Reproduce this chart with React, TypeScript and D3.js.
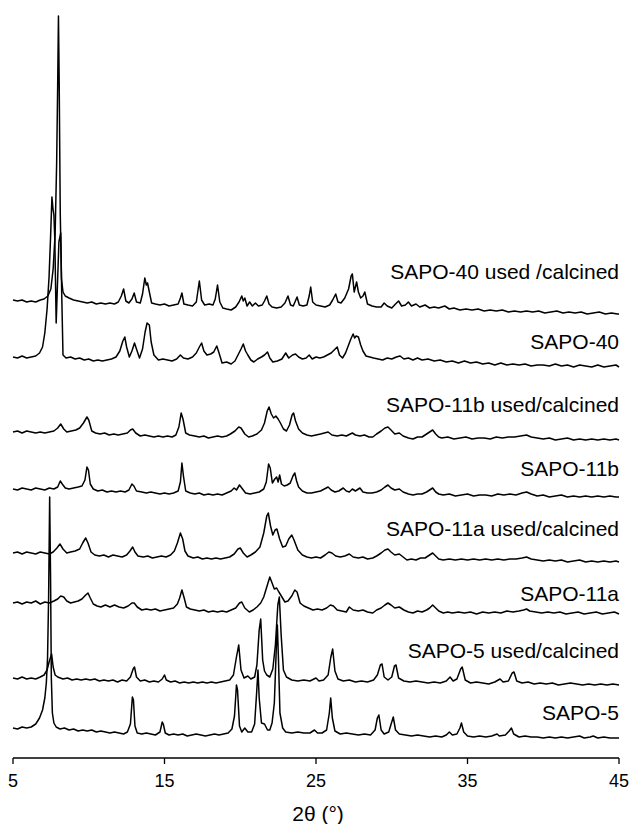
import React from "react";
import * as d3 from "d3";

type Pt = [number, number];

// 2θ axis ticks
const THETA_TICKS = [5, 15, 25, 35, 45];

// Series names (top to bottom) and vertical offsets (a.u.)
const NAMES = [
  "SAPO-40 used /calcined",
  "SAPO-40",
  "SAPO-11b used/calcined",
  "SAPO-11b",
  "SAPO-11a used/calcined",
  "SAPO-11a",
  "SAPO-5 used/calcined",
  "SAPO-5",
];
const OFFSETS = [444, 391, 319, 262, 197, 145, 73, 20];

const SAPO40_USED: Pt[] = [[5.0,14],[5.3,13],[5.6,14],[5.9,12],[6.2,13],[6.5,12],[6.8,14],[7.05,15],[7.3,18],[7.5,25],[7.65,45],[7.78,80],[7.88,150],[7.95,230],[8.0,298],[8.05,230],[8.12,100],[8.2,35],[8.3,22],[8.45,18],[8.7,16],[9.0,14],[9.3,13],[9.6,12],[9.9,11],[10.2,12],[10.5,10],[10.8,11],[11.1,10],[11.4,11],[11.7,10],[11.95,12],[12.15,18],[12.3,25],[12.45,13],[12.65,11],[12.85,15],[13.0,21],[13.15,12],[13.4,11],[13.55,20],[13.7,36],[13.8,29],[13.88,31],[14.0,22],[14.15,11],[14.4,10],[14.7,9],[15.0,10],[15.3,8],[15.6,9],[15.9,10],[16.05,16],[16.15,21],[16.28,10],[16.55,9],[16.85,8],[17.1,12],[17.3,33],[17.45,14],[17.65,9],[17.95,10],[18.2,9],[18.35,15],[18.5,29],[18.65,12],[18.85,6],[19.1,5],[19.4,4],[19.7,7],[19.92,12],[20.1,18],[20.2,13],[20.3,16],[20.45,8],[20.62,12],[20.8,8],[21.0,11],[21.2,8],[21.45,9],[21.6,13],[21.75,18],[21.9,10],[22.1,7],[22.4,6],[22.7,7],[22.95,11],[23.15,18],[23.32,9],[23.5,8],[23.75,17],[23.9,9],[24.15,8],[24.4,9],[24.55,18],[24.65,27],[24.78,12],[25.0,9],[25.3,8],[25.6,7],[25.9,9],[26.1,14],[26.3,20],[26.45,12],[26.65,11],[26.9,16],[27.15,25],[27.32,38],[27.4,40],[27.52,22],[27.68,32],[27.8,22],[27.95,16],[28.1,18],[28.22,22],[28.4,10],[28.7,8],[29.0,7],[29.3,7],[29.5,11],[29.7,8],[30.0,6],[30.25,10],[30.45,13],[30.65,8],[30.9,9],[31.1,12],[31.3,8],[31.6,10],[31.85,7],[32.2,9],[32.5,6],[32.8,7],[33.1,6],[33.5,8],[33.8,5],[34.1,6],[34.5,4],[34.9,5],[35.3,4],[35.7,5],[36.1,3],[36.5,4],[36.9,3],[37.3,4],[37.7,2],[38.1,3],[38.5,2],[38.9,3],[39.3,2],[39.7,3],[40.1,1],[40.5,2],[40.9,3],[41.3,1],[41.7,2],[42.1,1],[42.5,2],[42.9,0],[43.3,1],[43.7,2],[44.1,0],[44.5,1],[44.9,0],[45.0,0]];

const SAPO40: Pt[] = [[5.0,10],[5.3,9],[5.6,11],[5.9,9],[6.2,10],[6.5,11],[6.75,14],[6.95,20],[7.1,34],[7.25,58],[7.38,90],[7.48,130],[7.57,170],[7.64,158],[7.7,152],[7.76,128],[7.85,44],[7.93,80],[8.03,125],[8.15,134],[8.22,70],[8.3,12],[8.5,9],[8.8,10],[9.1,8],[9.4,9],[9.7,7],[10.0,8],[10.3,6],[10.6,7],[10.9,6],[11.2,7],[11.5,8],[11.8,10],[12.05,16],[12.25,26],[12.38,30],[12.5,20],[12.68,10],[12.85,16],[13.02,24],[13.15,18],[13.35,9],[13.55,18],[13.72,35],[13.85,44],[14.0,42],[14.12,25],[14.3,12],[14.6,7],[14.9,8],[15.2,7],[15.5,6],[15.8,8],[16.05,12],[16.25,9],[16.55,8],[16.85,10],[17.1,14],[17.3,20],[17.45,24],[17.6,16],[17.8,12],[18.05,13],[18.25,15],[18.45,21],[18.6,14],[18.8,4],[19.1,5],[19.4,3],[19.65,6],[19.85,12],[20.05,18],[20.2,23],[20.35,16],[20.5,12],[20.7,7],[20.9,5],[21.15,8],[21.4,10],[21.6,12],[21.8,15],[21.95,9],[22.15,5],[22.45,6],[22.75,8],[23.0,14],[23.2,9],[23.45,12],[23.65,13],[23.85,10],[24.1,8],[24.35,9],[24.55,12],[24.75,8],[25.0,10],[25.25,9],[25.5,10],[25.75,12],[26.0,14],[26.2,17],[26.4,20],[26.55,12],[26.75,9],[26.95,14],[27.15,22],[27.3,28],[27.45,33],[27.55,29],[27.65,31],[27.8,30],[27.95,22],[28.1,16],[28.3,11],[28.55,10],[28.8,9],[29.1,8],[29.4,7],[29.7,9],[30.0,8],[30.3,10],[30.55,11],[30.8,8],[31.1,9],[31.4,7],[31.7,9],[32.0,7],[32.4,8],[32.8,6],[33.2,7],[33.6,5],[34.0,6],[34.4,4],[34.8,6],[35.2,4],[35.6,5],[36.0,3],[36.4,4],[36.8,2],[37.2,4],[37.6,2],[38.0,3],[38.4,2],[38.8,3],[39.2,1],[39.6,2],[40.0,2],[40.4,1],[40.8,3],[41.2,1],[41.6,2],[42.0,0],[42.4,2],[42.8,1],[43.2,0],[43.6,2],[44.0,0],[44.4,1],[44.8,2],[45.0,0]];

const SAPO11B_USED: Pt[] = [[5.0,7],[5.3,8],[5.6,6],[5.9,8],[6.2,7],[6.5,6],[6.8,7],[7.1,6],[7.4,7],[7.7,8],[7.95,11],[8.15,15],[8.35,10],[8.55,7],[8.85,8],[9.15,9],[9.4,11],[9.65,16],[9.88,22],[10.0,19],[10.2,8],[10.45,6],[10.75,5],[11.05,6],[11.35,4],[11.65,5],[11.95,4],[12.25,5],[12.55,6],[12.75,9],[12.9,10],[13.1,6],[13.4,3],[13.7,4],[14.0,3],[14.3,2],[14.6,3],[14.9,2],[15.2,3],[15.5,2],[15.75,4],[15.95,12],[16.1,26],[16.22,20],[16.4,6],[16.65,4],[17.0,3],[17.3,2],[17.6,3],[17.9,1],[18.2,2],[18.5,3],[18.8,2],[19.1,3],[19.35,5],[19.65,8],[19.9,12],[20.05,11],[20.3,5],[20.55,2],[20.8,3],[21.1,5],[21.4,9],[21.6,16],[21.78,28],[21.9,32],[22.05,25],[22.2,21],[22.35,23],[22.5,20],[22.65,16],[22.85,10],[23.05,8],[23.25,14],[23.42,24],[23.52,26],[23.65,18],[23.85,10],[24.1,6],[24.4,4],[24.7,3],[25.0,4],[25.3,5],[25.55,6],[25.8,7],[26.05,4],[26.4,3],[26.7,4],[27.0,3],[27.4,6],[27.6,4],[27.9,3],[28.2,4],[28.5,2],[28.75,2],[29.0,5],[29.3,8],[29.55,11],[29.75,12],[29.95,9],[30.2,5],[30.5,6],[30.75,3],[31.1,1],[31.4,0],[31.7,2],[32.0,2],[32.3,5],[32.5,7],[32.7,9],[32.9,5],[33.1,2],[33.3,1],[33.7,2],[34.1,0],[34.5,1],[34.9,2],[35.3,0],[35.7,1],[36.1,1],[36.5,0],[36.9,2],[37.3,1],[37.7,2],[38.1,2],[38.5,3],[38.9,4],[39.2,2],[39.6,1],[40.0,0],[40.4,1],[40.8,-1],[41.2,0],[41.6,1],[42.0,-1],[42.4,0],[42.8,-1],[43.2,0],[43.6,-1],[44.0,0],[44.4,-1],[44.8,0],[45.0,-1]];

const SAPO11B: Pt[] = [[5.0,7],[5.3,6],[5.6,8],[5.9,7],[6.2,6],[6.5,8],[6.8,7],[7.1,6],[7.4,8],[7.7,7],[7.95,9],[8.12,15],[8.25,12],[8.45,8],[8.7,7],[9.0,8],[9.3,9],[9.55,10],[9.75,16],[9.88,29],[9.98,26],[10.1,12],[10.3,7],[10.6,5],[10.9,6],[11.2,4],[11.5,5],[11.8,4],[12.1,5],[12.4,4],[12.65,6],[12.85,12],[12.98,10],[13.15,5],[13.5,4],[13.8,3],[14.1,4],[14.4,3],[14.7,2],[15.0,3],[15.3,2],[15.6,3],[15.9,5],[16.05,14],[16.15,33],[16.25,20],[16.4,5],[16.7,3],[17.0,2],[17.3,3],[17.6,1],[17.9,2],[18.2,1],[18.5,2],[18.8,1],[19.1,3],[19.4,5],[19.6,8],[19.75,6],[19.95,11],[20.1,8],[20.35,3],[20.65,2],[20.95,3],[21.25,4],[21.55,7],[21.72,14],[21.87,32],[21.98,28],[22.12,13],[22.28,17],[22.4,19],[22.5,14],[22.6,21],[22.72,12],[22.9,10],[23.1,11],[23.3,13],[23.48,20],[23.6,23],[23.72,15],[23.85,9],[24.1,5],[24.4,3],[24.7,3],[25.0,4],[25.3,5],[25.55,7],[25.8,9],[26.0,6],[26.25,4],[26.5,5],[26.8,8],[27.0,5],[27.2,4],[27.4,7],[27.6,5],[27.9,8],[28.1,4],[28.4,3],[28.7,3],[29.0,4],[29.3,6],[29.55,9],[29.75,11],[29.95,8],[30.2,6],[30.5,7],[30.75,4],[31.1,2],[31.4,1],[31.7,2],[32.0,2],[32.3,4],[32.5,6],[32.7,8],[32.9,4],[33.1,2],[33.4,1],[33.8,2],[34.2,0],[34.6,1],[35.0,2],[35.4,0],[35.8,1],[36.2,1],[36.6,0],[37.0,2],[37.4,1],[37.8,2],[38.2,1],[38.6,3],[38.9,4],[39.2,2],[39.6,0],[40.0,1],[40.4,-1],[40.8,0],[41.2,1],[41.6,-1],[42.0,0],[42.4,-1],[42.8,0],[43.2,-1],[43.6,0],[44.0,-1],[44.4,0],[44.8,-1],[45.0,-1]];

const SAPO11A_USED: Pt[] = [[5.0,8],[5.3,9],[5.6,7],[5.9,9],[6.2,8],[6.5,7],[6.8,9],[7.1,8],[7.4,7],[7.65,9],[7.9,13],[8.1,17],[8.3,12],[8.55,8],[8.8,9],[9.1,10],[9.4,12],[9.6,18],[9.8,23],[9.95,18],[10.15,9],[10.4,6],[10.7,5],[11.0,6],[11.3,4],[11.6,6],[11.9,5],[12.2,4],[12.5,6],[12.72,10],[12.9,14],[13.05,9],[13.25,5],[13.6,4],[13.9,5],[14.2,3],[14.5,4],[14.8,5],[15.1,4],[15.4,6],[15.65,10],[15.85,18],[16.05,28],[16.2,22],[16.35,10],[16.55,5],[16.9,3],[17.2,4],[17.5,2],[17.8,3],[18.1,2],[18.4,3],[18.7,2],[19.0,3],[19.3,4],[19.6,7],[19.85,12],[20.0,13],[20.2,8],[20.45,4],[20.7,6],[21.0,9],[21.3,14],[21.55,28],[21.75,45],[21.85,48],[22.0,35],[22.15,26],[22.3,31],[22.42,32],[22.6,22],[22.8,14],[23.0,15],[23.2,22],[23.4,26],[23.55,21],[23.8,11],[24.1,6],[24.4,4],[24.7,3],[25.0,4],[25.3,3],[25.6,6],[25.85,9],[26.05,8],[26.3,5],[26.6,4],[26.9,5],[27.2,7],[27.45,4],[27.8,3],[28.1,4],[28.4,2],[28.75,3],[29.0,5],[29.3,8],[29.55,11],[29.75,12],[29.95,9],[30.2,6],[30.5,7],[30.75,4],[31.0,1],[31.3,2],[31.6,1],[31.9,3],[32.2,3],[32.5,6],[32.7,8],[32.9,5],[33.1,2],[33.4,1],[33.8,2],[34.2,1],[34.6,2],[35.0,1],[35.4,2],[35.8,1],[36.2,2],[36.6,1],[37.0,2],[37.4,1],[37.8,2],[38.2,2],[38.6,3],[38.9,4],[39.2,2],[39.6,1],[40.0,0],[40.4,1],[40.8,0],[41.2,1],[41.6,-1],[42.0,0],[42.4,1],[42.8,-1],[43.2,0],[43.6,-1],[44.0,0],[44.4,-1],[44.8,0],[45.0,-1]];

const SAPO11A: Pt[] = [[5.0,10],[5.3,11],[5.6,9],[5.9,11],[6.2,10],[6.5,12],[6.8,9],[7.1,11],[7.4,10],[7.7,12],[7.95,14],[8.15,17],[8.35,16],[8.55,12],[8.8,10],[9.05,11],[9.3,12],[9.55,14],[9.8,18],[9.95,20],[10.1,15],[10.3,9],[10.55,7],[10.8,6],[11.1,8],[11.4,6],[11.7,8],[12.0,6],[12.3,5],[12.6,7],[12.85,10],[13.0,10],[13.2,6],[13.5,3],[13.8,4],[14.1,3],[14.4,4],[14.7,2],[15.0,3],[15.3,4],[15.6,5],[15.85,9],[16.0,15],[16.15,23],[16.3,15],[16.45,6],[16.7,4],[17.0,3],[17.3,2],[17.6,3],[17.9,1],[18.2,2],[18.5,1],[18.8,2],[19.1,1],[19.4,3],[19.7,5],[19.95,10],[20.1,11],[20.3,5],[20.6,1],[20.85,3],[21.1,6],[21.35,10],[21.55,16],[21.75,26],[21.95,36],[22.1,30],[22.25,24],[22.4,25],[22.55,21],[22.75,16],[22.95,11],[23.15,12],[23.4,17],[23.6,23],[23.75,21],[23.95,10],[24.2,7],[24.5,5],[24.8,3],[25.1,4],[25.4,3],[25.7,5],[25.95,8],[26.15,7],[26.4,3],[26.7,2],[27.0,1],[27.2,6],[27.45,3],[27.8,2],[28.1,3],[28.4,1],[28.75,0],[29.0,3],[29.3,5],[29.55,8],[29.75,10],[29.95,8],[30.2,5],[30.5,6],[30.8,3],[31.1,1],[31.4,0],[31.7,2],[32.0,1],[32.3,3],[32.5,5],[32.7,8],[32.9,5],[33.1,2],[33.4,0],[33.7,1],[34.0,0],[34.4,1],[34.8,0],[35.2,1],[35.6,-1],[36.0,1],[36.4,0],[36.8,1],[37.2,0],[37.6,2],[38.0,1],[38.4,2],[38.7,3],[38.9,4],[39.1,2],[39.5,1],[39.9,0],[40.3,1],[40.7,0],[41.1,1],[41.5,-1],[41.9,0],[42.3,1],[42.7,-1],[43.1,0],[43.5,1],[43.9,-1],[44.3,0],[44.7,1],[45.0,-1]];

const SAPO5_USED: Pt[] = [[5.0,7],[5.3,6],[5.6,8],[5.9,6],[6.2,7],[6.5,6],[6.8,8],[7.05,10],[7.25,15],[7.4,24],[7.55,31],[7.65,18],[7.78,10],[7.95,8],[8.3,6],[8.6,7],[8.9,5],[9.2,6],[9.5,5],[9.8,6],[10.1,5],[10.4,6],[10.7,4],[11.0,5],[11.3,4],[11.6,5],[11.9,3],[12.2,5],[12.5,4],[12.75,8],[12.93,16],[13.02,18],[13.15,8],[13.4,4],[13.7,5],[14.0,3],[14.3,4],[14.6,3],[14.85,6],[15.0,10],[15.12,5],[15.4,3],[15.7,4],[16.0,2],[16.3,3],[16.6,2],[16.9,3],[17.2,2],[17.5,3],[17.8,2],[18.1,3],[18.4,2],[18.7,3],[19.0,4],[19.3,5],[19.55,10],[19.75,28],[19.9,40],[20.05,15],[20.25,7],[20.5,9],[20.7,6],[20.95,8],[21.1,20],[21.25,55],[21.35,66],[21.48,25],[21.6,14],[21.75,10],[21.95,8],[22.15,16],[22.32,40],[22.48,80],[22.58,88],[22.7,50],[22.85,15],[23.05,8],[23.4,5],[23.8,4],[24.2,5],[24.6,4],[25.0,7],[25.2,4],[25.5,5],[25.8,10],[25.98,28],[26.1,36],[26.25,14],[26.45,6],[26.8,4],[27.2,5],[27.6,3],[28.0,4],[28.4,3],[28.8,5],[29.05,10],[29.25,20],[29.36,21],[29.5,8],[29.75,5],[30.0,8],[30.18,19],[30.28,20],[30.45,7],[30.8,4],[31.2,3],[31.6,4],[32.0,3],[32.4,2],[32.8,3],[33.2,2],[33.6,4],[33.85,8],[34.05,4],[34.3,6],[34.55,16],[34.65,18],[34.85,5],[35.2,2],[35.6,3],[36.0,2],[36.4,1],[36.8,3],[37.15,6],[37.35,3],[37.7,4],[37.95,12],[38.07,13],[38.25,4],[38.6,2],[39.0,3],[39.4,1],[39.8,2],[40.2,1],[40.6,2],[41.0,0],[41.4,1],[41.8,2],[42.2,1],[42.6,0],[43.0,1],[43.4,0],[43.8,1],[44.2,0],[44.6,1],[45.0,0]];

const SAPO5: Pt[] = [[5.0,10],[5.3,9],[5.6,11],[5.9,10],[6.2,11],[6.5,14],[6.75,20],[6.95,28],[7.1,40],[7.2,55],[7.28,80],[7.35,140],[7.42,241],[7.48,160],[7.53,60],[7.6,25],[7.7,15],[7.85,11],[8.1,9],[8.4,10],[8.7,8],[9.0,9],[9.3,7],[9.6,8],[9.9,7],[10.2,8],[10.5,6],[10.8,7],[11.1,6],[11.4,5],[11.7,6],[12.0,5],[12.3,4],[12.55,6],[12.75,14],[12.88,41],[12.95,38],[13.05,12],[13.2,5],[13.5,4],[13.8,5],[14.1,4],[14.4,3],[14.7,6],[14.85,16],[14.92,14],[15.05,5],[15.3,3],[15.6,4],[15.9,3],[16.2,4],[16.5,2],[16.8,3],[17.1,4],[17.4,3],[17.7,2],[18.0,3],[18.3,4],[18.6,3],[18.9,4],[19.2,5],[19.45,9],[19.62,22],[19.75,53],[19.82,48],[19.95,12],[20.1,6],[20.3,10],[20.5,6],[20.75,6],[20.95,14],[21.08,45],[21.17,68],[21.25,40],[21.4,15],[21.6,14],[21.8,8],[21.95,8],[22.1,15],[22.25,35],[22.38,90],[22.45,113],[22.52,80],[22.62,25],[22.8,10],[23.0,6],[23.4,5],[23.8,6],[24.2,5],[24.6,5],[24.9,8],[25.1,5],[25.4,5],[25.7,8],[25.88,25],[25.97,40],[26.08,20],[26.25,7],[26.6,4],[27.0,5],[27.4,4],[27.8,3],[28.2,4],[28.6,3],[28.9,8],[29.05,20],[29.15,23],[29.3,8],[29.5,4],[29.8,6],[30.0,16],[30.1,21],[30.25,8],[30.5,4],[30.9,3],[31.3,2],[31.7,3],[32.1,2],[32.5,1],[32.9,2],[33.3,1],[33.6,3],[33.8,6],[34.0,3],[34.3,4],[34.5,10],[34.6,15],[34.75,6],[35.0,2],[35.4,1],[35.8,2],[36.2,1],[36.6,2],[36.95,4],[37.1,2],[37.5,3],[37.75,7],[37.9,10],[38.05,4],[38.4,1],[38.8,2],[39.2,1],[39.6,1],[40.0,0],[40.4,1],[40.8,0],[41.2,1],[41.6,0],[42.0,1],[42.4,2],[42.7,0],[43.1,1],[43.3,2],[43.6,0],[44.0,1],[44.4,0],[45.0,0]];

const SERIES: Pt[][] = [SAPO40_USED, SAPO40, SAPO11B_USED, SAPO11B, SAPO11A_USED, SAPO11A, SAPO5_USED, SAPO5];

// label lift above each trace's zero level (layout)
const LABEL_LIFT = [35, 18.5, 27.5, 20.5, 25.5, 12.5, 27.5, 18.5];

const W = 633;
const H = 824;
const AXIS_Y = 758;
const FONT = "'Liberation Sans', Arial, Helvetica, sans-serif";

export default function App() {
  const x = d3.scaleLinear().domain([5, 45]).range([13, 619]);
  const y = d3.scaleLinear().domain([0, 742]).range([AXIS_Y, 16]);

  return (
    <div style={{ position: "absolute", left: 0, top: 0 }}>
      <svg width={W} height={H} style={{ display: "block", background: "#fff" }}>
        {SERIES.map((pts, i) => {
          const off = OFFSETS[i];
          const line = d3
            .line<Pt>()
            .x((d) => x(d[0]))
            .y((d) => y(d[1] + off));
          return (
            <path
              key={i}
              d={line(pts) || ""}
              fill="none"
              stroke="#000"
              strokeWidth={1.5}
              strokeLinejoin="round"
            />
          );
        })}
        {NAMES.map((n, i) => (
          <text
            key={n}
            x={619}
            y={y(OFFSETS[i]) - LABEL_LIFT[i]}
            textAnchor="end"
            fontFamily={FONT}
            fontSize={21}
            fill="#000"
          >
            {n}
          </text>
        ))}
        <line x1={x(5)} x2={x(45)} y1={AXIS_Y} y2={AXIS_Y} stroke="#000" strokeWidth={1.3} />
        {THETA_TICKS.map((t) => (
          <g key={t}>
            <line x1={x(t)} x2={x(t)} y1={AXIS_Y} y2={AXIS_Y + 6} stroke="#000" strokeWidth={1.3} />
            <text
              x={x(t)}
              y={787}
              textAnchor="middle"
              fontFamily={FONT}
              fontSize={18}
              fill="#000"
            >
              {t}
            </text>
          </g>
        ))}
        <text x={318} y={821} textAnchor="middle" fontFamily={FONT} fontSize={21} fill="#000">
          2θ (°)
        </text>
      </svg>
    </div>
  );
}
